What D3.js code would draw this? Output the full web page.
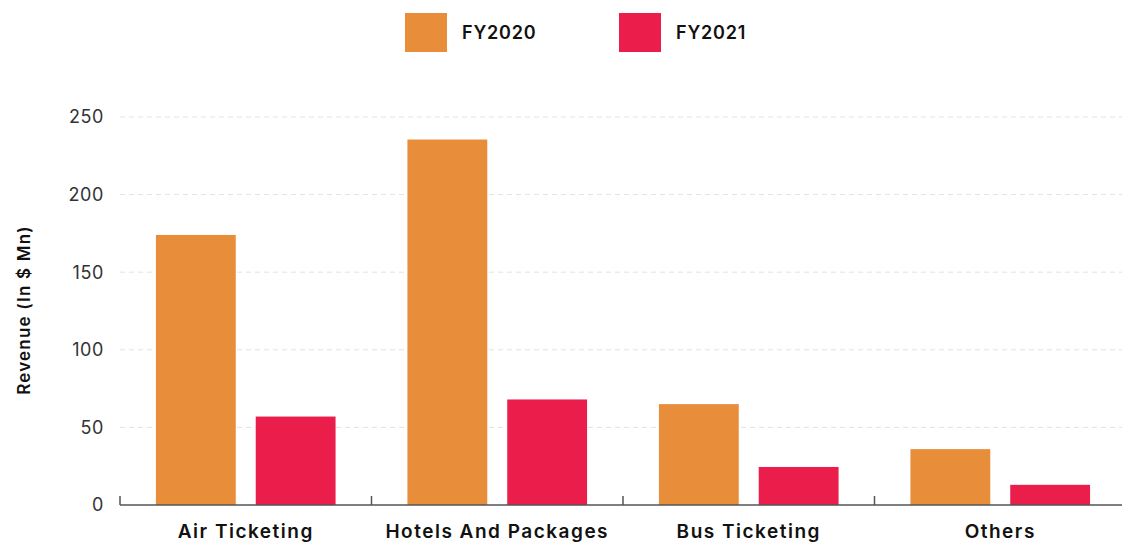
<!DOCTYPE html>
<html>
<head>
<meta charset="utf-8">
<script src="https://cdn.jsdelivr.net/npm/d3@7"></script>
<style>
  html, body { margin: 0; padding: 0; background: #fff; }
  svg { display: block; font-family: Inter, "Noto Sans", sans-serif; }
</style>
</head>
<body>
<svg id="chart" width="1122" height="544"></svg>
<script>
// Revenue by business segment, FY2020 vs FY2021 (in $ Mn)
const categories = ["Air Ticketing", "Hotels And Packages", "Bus Ticketing", "Others"];
const seriesNames = ["FY2020", "FY2021"];
const fy2020 = [174, 235.5, 65, 36];
const fy2021 = [57, 68, 24.5, 13];
const yTicks = [0, 50, 100, 150, 200, 250];
const colors = ["#E88E3A", "#EB1E4B"];

const svg = d3.select("#chart");
const margin = { left: 120, right: -4, top: 117, bottom: 39 };
const W = 1122, H = 544;

const x0 = d3.scaleBand().domain(categories).range([margin.left, W - margin.right]).padding(0);
const x1 = d3.scaleBand().domain(seriesNames).range([0, x0.bandwidth()]).paddingInner(0.2).paddingOuter(0.36);
const y = d3.scaleLinear().domain([0, 250]).range([H - margin.bottom, margin.top]);

// dashed gridlines
svg.append("g")
  .selectAll("line")
  .data(yTicks.filter(d => d > 0))
  .join("line")
  .attr("x1", margin.left).attr("x2", W)
  .attr("y1", d => y(d)).attr("y2", d => y(d))
  .attr("stroke", "#e2e2e2").attr("stroke-width", 1)
  .attr("stroke-dasharray", "5,4");

// y tick labels
svg.append("g")
  .selectAll("text")
  .data(yTicks)
  .join("text")
  .attr("x", 104).attr("y", d => y(d))
  .attr("dy", "0.35em")
  .attr("text-anchor", "end")
  .attr("font-size", 18)
  .attr("letter-spacing", 0.6)
  .attr("fill", "#333")
  .text(d => d);

// y axis title
svg.append("text")
  .attr("transform", `translate(24,310) rotate(-90)`)
  .attr("dy", "0.35em")
  .attr("text-anchor", "middle")
  .attr("font-size", 17)
  .attr("font-weight", 600)
  .attr("letter-spacing", 1.2)
  .attr("fill", "#111")
  .text("Revenue (In $ Mn)");

// bars
const rows = categories.map((c, i) => ({ cat: c, values: [fy2020[i], fy2021[i]] }));
svg.append("g")
  .selectAll("g")
  .data(rows)
  .join("g")
  .attr("transform", d => `translate(${x0(d.cat)},0)`)
  .selectAll("rect")
  .data(d => d.values.map((v, k) => ({ key: seriesNames[k], v, k })))
  .join("rect")
  .attr("x", d => x1(d.key))
  .attr("width", x1.bandwidth())
  .attr("y", d => y(d.v))
  .attr("height", d => y(0) - y(d.v))
  .attr("fill", d => colors[d.k]);

// x axis with ticks pointing up at band boundaries
const xAxis = svg.append("g").attr("transform", `translate(0,${y(0)})`);
xAxis.append("line")
  .attr("x1", margin.left).attr("x2", W)
  .attr("stroke", "#555").attr("stroke-width", 1.5);
xAxis.selectAll("line.tick")
  .data(categories)
  .join("line")
  .attr("class", "tick")
  .attr("x1", d => x0(d)).attr("x2", d => x0(d))
  .attr("y1", 0).attr("y2", -9)
  .attr("stroke", "#555").attr("stroke-width", 1.5);
xAxis.selectAll("text")
  .data(categories)
  .join("text")
  .attr("x", d => x0(d) + x0.bandwidth() / 2)
  .attr("y", 33)
  .attr("text-anchor", "middle")
  .attr("font-size", 19)
  .attr("font-weight", 600)
  .attr("letter-spacing", 1.5)
  .attr("fill", "#111")
  .text(d => d);

// legend
const legendX = [405, 619];
const legend = svg.append("g")
  .selectAll("g")
  .data(seriesNames)
  .join("g")
  .attr("transform", (d, i) => `translate(${legendX[i]},13)`);
legend.append("rect")
  .attr("width", 42).attr("height", 39)
  .attr("fill", (d, i) => colors[i]);
legend.append("text")
  .attr("x", 57).attr("y", 20)
  .attr("dy", "0.35em")
  .attr("font-size", 18)
  .attr("font-weight", 600)
  .attr("letter-spacing", 0.8)
  .attr("fill", "#111")
  .text(d => d);
</script>
</body>
</html>
